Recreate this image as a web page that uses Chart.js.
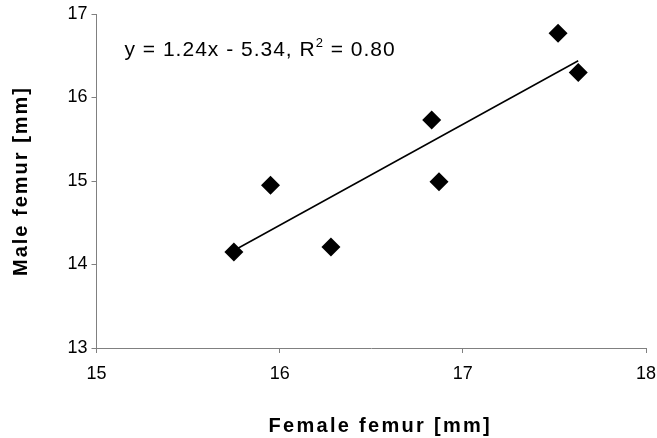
<!DOCTYPE html>
<html>
<head>
<meta charset="utf-8">
<script src="https://cdn.jsdelivr.net/npm/chart.js@4.4.0/dist/chart.umd.min.js"></script>
<style>
  body { margin: 0; background: #fff; }
  #wrap { width: 657px; height: 438px; }
</style>
</head>
<body>
<div id="wrap"><canvas id="femurChart" width="657" height="438"></canvas></div>
<script>
// femur lengths
var femaleFemur = [15.75, 15.95, 16.28, 16.83, 16.87, 17.52, 17.63];
var maleFemur = [14.15, 14.95, 14.21, 15.73, 14.99, 16.77, 16.30];

// trend line as printed / as drawn on the chart
var slope = 1.24;
var intercept = -5.34;
var rSquared = '0.80';
var trendX = [15.76, 17.63];
var trendY = [14.18, 16.44];

var xTicks = [15, 16, 17, 18];
var yTicks = [13, 14, 15, 16, 17];
var xTitle = 'Female femur [mm]';
var yTitle = 'Male femur [mm]';

var points = femaleFemur.map((x, i) => ({x: x, y: maleFemur[i]}));
var trendPoints = trendX.map((x, i) => ({x: x, y: trendY[i]}));

var FONT = '"Liberation Sans", Arial, sans-serif';

// equation text and spaced-out axis titles
const textLayer = {
    id: 'textLayer',
    afterDraw(chart) {
        const ctx = chart.ctx;
        const area = chart.chartArea;
        ctx.save();
        ctx.fillStyle = '#000';
        ctx.textBaseline = 'alphabetic';
        ctx.textAlign = 'left';

        // equation
        ctx.letterSpacing = '1px';
        ctx.font = '21px ' + FONT;
        var x = area.left + 28;
        var y = area.top + 42;
        var s1 = 'y = ' + slope.toFixed(2) + 'x - ' + Math.abs(intercept).toFixed(2) + ', R';
        ctx.fillText(s1, x, y);
        x += ctx.measureText(s1).width;
        ctx.font = '13px ' + FONT;
        ctx.fillText('2', x, y - 9);
        x += ctx.measureText('2').width;
        ctx.font = '21px ' + FONT;
        ctx.fillText(' = ' + rSquared, x, y);

        // axis titles
        ctx.letterSpacing = '2.3px';
        ctx.font = 'bold 20px ' + FONT;
        ctx.textAlign = 'center';
        ctx.fillText(xTitle, (area.left + area.right) / 2 + 9, 432);
        ctx.letterSpacing = '2px';
        ctx.translate(27, (area.top + area.bottom) / 2);
        ctx.rotate(-Math.PI / 2);
        ctx.fillText(yTitle, 0, 0);
        ctx.restore();
    }
};

var ctx = document.getElementById('femurChart').getContext('2d');
new Chart(ctx, {
    type: 'scatter',
    data: {
        datasets: [
            {
                label: 'Trend',
                type: 'line',
                data: trendPoints,
                borderColor: '#000',
                borderWidth: 1.5,
                pointRadius: 0,
                fill: false
            },
            {
                label: 'Femur',
                data: points,
                pointStyle: 'rectRot',
                pointRadius: 9.5,
                pointHoverRadius: 9.5,
                backgroundColor: '#000',
                borderColor: '#000',
                borderWidth: 0
            }
        ]
    },
    options: {
        responsive: false,
        animation: false,
        layout: {padding: {top: 14, right: 11, left: 0, bottom: 0}},
        plugins: {
            legend: {display: false},
            tooltip: {enabled: false}
        },
        scales: {
            x: {
                type: 'linear',
                min: 15,
                max: 18,
                afterBuildTicks: axis => { axis.ticks = xTicks.map(v => ({value: v})); },
                afterFit: axis => {
                    axis.height = 90;
                    axis.paddingLeft = 0;
                    axis.paddingRight = 0;
                },
                grid: {drawOnChartArea: false, drawTicks: true, tickLength: 5, color: '#808080'},
                border: {color: '#808080', width: 1},
                ticks: {
                    color: '#000',
                    padding: 10,
                    font: {family: FONT, size: 18}
                }
            },
            y: {
                type: 'linear',
                min: 13,
                max: 17,
                afterBuildTicks: axis => { axis.ticks = yTicks.map(v => ({value: v})); },
                afterFit: axis => {
                    axis.width = 96.5;
                    axis.paddingTop = 0;
                    axis.paddingBottom = 0;
                },
                grid: {drawOnChartArea: false, drawTicks: true, tickLength: 5, color: '#808080'},
                border: {color: '#808080', width: 1},
                ticks: {
                    color: '#000',
                    padding: 4,
                    font: {family: FONT, size: 18}
                }
            }
        }
    },
    plugins: [textLayer]
});
</script>
</body>
</html>
